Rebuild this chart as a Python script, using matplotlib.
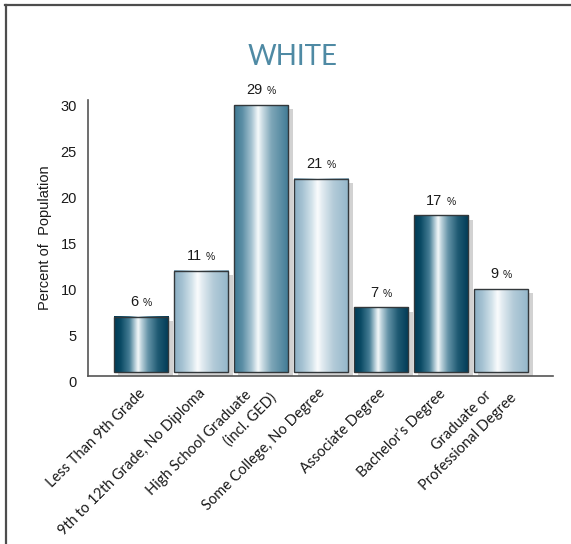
import matplotlib
matplotlib.use("Agg")
import matplotlib.pyplot as plt
import numpy as np
from matplotlib.colors import LinearSegmentedColormap
from matplotlib.patches import Rectangle
from matplotlib.lines import Line2D
from matplotlib.offsetbox import TextArea, HPacker, AnnotationBbox

# Educational attainment, white population
categories = [
    "Less Than 9th Grade",
    "9th to 12th Grade, No Diploma",
    "High School Graduate\n(incl. GED)",
    "Some College, No Degree",
    "Associate Degree",
    "Bachelor\u2019s Degree",
    "Graduate or\nProfessional Degree",
]
values = [6, 11, 29, 21, 7, 17, 9]
shades = ["dark", "light", "medium", "light", "dark", "dark", "light"]
yticks = [0, 5, 10, 15, 20, 25, 30]

W, H, DPI = 571, 544, 100
fig = plt.figure(figsize=(W / DPI, H / DPI), dpi=DPI)
fig.patch.set_facecolor("white")

# axes box in pixels
ax_l, ax_r, ax_t, ax_b = 88, 553, 100, 376
ax = fig.add_axes([ax_l / W, 1 - ax_b / H, (ax_r - ax_l) / W, (ax_b - ax_t) / H])

x = np.arange(len(values))
xmin, xmax = -0.958, 6.79
ymin, ymax = 0, 30
ax.set_xlim(xmin, xmax)
ax.set_ylim(ymin, ymax)

px_per_x = (ax_r - ax_l) / (xmax - xmin)
px_per_y = (ax_b - ax_t) / (ymax - ymin)

bar_w = 54.4 / px_per_x
# raised face of each bar relative to its drop shadow (pixels)
face_dx_px, face_dy_px = -4.6, 4.3
face_dx = face_dx_px / px_per_x
face_dy = face_dy_px / px_per_y

cmaps = {
    "dark": LinearSegmentedColormap.from_list("dark", [
        (0.00, "#003a55"), (0.12, "#0a4a64"), (0.28, "#467d95"),
        (0.38, "#b3ccd7"), (0.44, "#f4f8fa"), (0.50, "#bcd2db"),
        (0.62, "#6594a8"), (0.80, "#1f5a73"), (1.00, "#003a55")]),
    "medium": LinearSegmentedColormap.from_list("medium", [
        (0.00, "#3e7892"), (0.15, "#5b8ea5"), (0.32, "#a6c3d1"),
        (0.44, "#f6fafb"), (0.52, "#c9dbe3"), (0.68, "#7ea6b8"),
        (1.00, "#3f7a94")]),
    "light": LinearSegmentedColormap.from_list("light", [
        (0.00, "#8aaec3"), (0.15, "#a5c2d2"), (0.32, "#d2e2ea"),
        (0.43, "#fafcfd"), (0.52, "#e0eaf0"), (0.72, "#b3cbd8"),
        (1.00, "#93b6c9")]),
}
grad = np.linspace(0, 1, 256).reshape(1, -1)

# drop shadows
ax.bar(x, values, width=bar_w, color="#d2d2d2", edgecolor="none", zorder=1)

for xi, v, shade in zip(x, values, shades):
    x0 = xi - bar_w / 2 + face_dx
    ax.imshow(grad, extent=[x0, x0 + bar_w, face_dy, v + face_dy],
              aspect="auto", cmap=cmaps[shade], interpolation="bilinear",
              origin="lower", zorder=2)
    ax.add_patch(Rectangle((x0, face_dy), bar_w, v, fill=False,
                           edgecolor="#33383b", linewidth=1.0, zorder=3))
    # value label: number with a smaller percent sign
    num = TextArea(f"{v}", textprops=dict(fontsize=10.5, family="Liberation Sans",
                                          color="#1a1a1a"))
    pct = TextArea("%", textprops=dict(fontsize=7.5, family="Liberation Sans",
                                       color="#1a1a1a"))
    box = HPacker(children=[num, pct], align="baseline", pad=0, sep=3)
    ab = AnnotationBbox(box, (xi + face_dx, v + face_dy),
                        xybox=(0, 5.5), boxcoords="offset points",
                        box_alignment=(0.5, 0), frameon=False, pad=0,
                        annotation_clip=False)
    ax.add_artist(ab)

ax.set_xlim(xmin, xmax)
ax.set_ylim(ymin, ymax)

# axes styling
for s in ("top", "right"):
    ax.spines[s].set_visible(False)
for s in ("left", "bottom"):
    ax.spines[s].set_color("#555555")
    ax.spines[s].set_linewidth(1.2)
ax.set_yticks(yticks)
ax.set_yticklabels([str(t) for t in yticks], fontsize=10.5,
                   family="Liberation Sans", color="#1a1a1a", va="top")
ax.tick_params(axis="y", length=0, pad=8)
ax.set_xticks([])
ax.set_ylabel("Percent of  Population", fontsize=10.5, family="Liberation Sans",
              color="#1a1a1a")
ax.yaxis.set_label_coords(-0.078, 0.50)

# rotated category labels, multi-line ones staggered line by line
pt = 72 / DPI
anchor_dx, anchor_dy = -3.0, -10.0
line_offsets = {1: [(0.0, 0.0)], 2: [(-13.5, -2.0), (11.5, -4.5)]}
for xi, cat in zip(x, categories):
    lines = cat.split("\n")
    for line, (ox, oy) in zip(lines, line_offsets[len(lines)]):
        ax.annotate(line, xy=(xi + face_dx, 0), xycoords="data",
                    xytext=((anchor_dx + ox) * pt, (anchor_dy + oy) * pt),
                    textcoords="offset points", rotation=45,
                    rotation_mode="anchor", ha="right", va="top",
                    fontsize=10.5, family="Lato", color="#1a1a1a",
                    annotation_clip=False)

# title
fig.text(293 / W, 1 - 57 / H, "WHITE", fontsize=20, family="Lato",
         color="#4f8aa4", ha="center", va="center")

# frame along the top and left edges
fig.add_artist(Line2D([5 / W, 1.0], [1 - 5 / H, 1 - 5 / H],
                      transform=fig.transFigure, color="#4d4d4d", linewidth=1.6))
fig.add_artist(Line2D([6 / W, 6 / W], [1 - 5 / H, 0.0],
                      transform=fig.transFigure, color="#4d4d4d", linewidth=1.6))

fig.savefig("out.png", dpi=DPI, facecolor="white")
